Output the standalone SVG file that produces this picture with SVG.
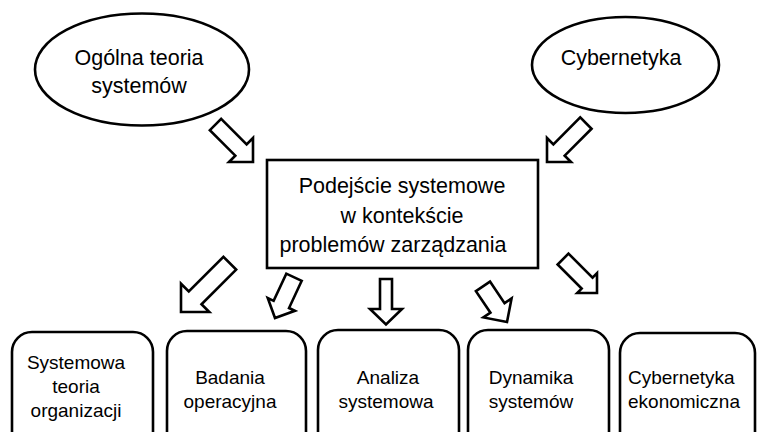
<svg xmlns="http://www.w3.org/2000/svg" width="757" height="432" viewBox="0 0 757 432">
  <style>
    .shape { fill: #ffffff; stroke: #000000; stroke-width: 2.6; }
    .arrow { fill: #ffffff; stroke: #000000; stroke-width: 2.6; stroke-linejoin: miter; }
    .big { font-family: "Liberation Sans", Arial, sans-serif; font-size: 21.5px; fill: #000000; text-anchor: middle; }
    .small { font-family: "Liberation Sans", Arial, sans-serif; font-size: 19px; fill: #000000; text-anchor: middle; }
  </style>
  <rect width="757" height="432" fill="#ffffff"/>

  <!-- source fields -->
  <g id="ogolna-teoria-systemow">
    <ellipse class="shape" cx="142" cy="69.5" rx="107" ry="56"/>
    <text class="big" x="139" y="65">Ogólna teoria</text>
    <text class="big" x="139" y="93">systemów</text>
  </g>
  <g id="cybernetyka">
    <ellipse class="shape" cx="625.5" cy="65" rx="93.5" ry="48"/>
    <text class="big" x="621" y="65">Cybernetyka</text>
  </g>

  <!-- central concept -->
  <g id="podejscie-systemowe">
    <rect class="shape" x="267" y="160" width="271" height="108"/>
    <text class="big" x="402" y="193">Podejście systemowe</text>
    <text class="big" x="402" y="223">w kontekście</text>
    <text class="big" x="393" y="252">problemów zarządzania</text>
  </g>

  <!-- derived disciplines (boxes run past the lower edge) -->
  <g id="systemowa-teoria-organizacji">
    <rect class="shape" x="12" y="332" width="141" height="130" rx="20"/>
    <text class="small" x="76" y="369">Systemowa</text>
    <text class="small" x="76" y="393">teoria</text>
    <text class="small" x="76" y="417">organizacji</text>
  </g>
  <g id="badania-operacyjna">
    <rect class="shape" x="167" y="331" width="139" height="130" rx="20"/>
    <text class="small" x="230" y="384">Badania</text>
    <text class="small" x="230" y="408">operacyjna</text>
  </g>
  <g id="analiza-systemowa">
    <rect class="shape" x="318" y="330" width="141" height="130" rx="20"/>
    <text class="small" x="388" y="384">Analiza</text>
    <text class="small" x="386" y="408">systemowa</text>
  </g>
  <g id="dynamika-systemow">
    <rect class="shape" x="468" y="330" width="141" height="130" rx="20"/>
    <text class="small" x="531" y="384">Dynamika</text>
    <text class="small" x="531" y="408">systemów</text>
  </g>
  <g id="cybernetyka-ekonomiczna">
    <rect class="shape" x="620" y="333" width="135" height="130" rx="20"/>
    <text class="small" x="628" y="384" style="text-anchor:start">Cybernetyka</text>
    <text class="small" x="628" y="408" style="text-anchor:start">ekonomiczna</text>
  </g>

  <!-- block arrows: tip at local origin, pointing along +x -->
  <g id="connectors">
    <polygon class="arrow" transform="translate(253,162) rotate(45)" points="-53,-8 -17,-8 -17,-17 0,0 -17,17 -17,8 -53,8"/>
    <polygon class="arrow" transform="translate(547,162) rotate(135)" points="-55,-8 -17,-8 -17,-17 0,0 -17,17 -17,8 -55,8"/>
    <polygon class="arrow" transform="translate(181,312) rotate(135)" points="-69,-9 -20,-9 -20,-20 0,0 -20,20 -20,9 -69,9"/>
    <polygon class="arrow" transform="translate(275,318) rotate(115)" points="-45,-8.5 -15,-8.5 -15,-15 0,0 -15,15 -15,8.5 -45,8.5"/>
    <polygon class="arrow" transform="translate(386,324.5) rotate(90)" points="-45.5,-6 -15.5,-6 -15.5,-16 0,0 -15.5,16 -15.5,6 -45.5,6"/>
    <polygon class="arrow" transform="translate(507,322) rotate(56)" points="-43,-8.5 -17,-8.5 -17,-17 0,0 -17,17 -17,8.5 -43,8.5"/>
    <polygon class="arrow" transform="translate(597,293) rotate(45)" points="-48,-7.7 -14,-7.7 -14,-14 0,0 -14,14 -14,7.7 -48,7.7"/>
  </g>
</svg>
